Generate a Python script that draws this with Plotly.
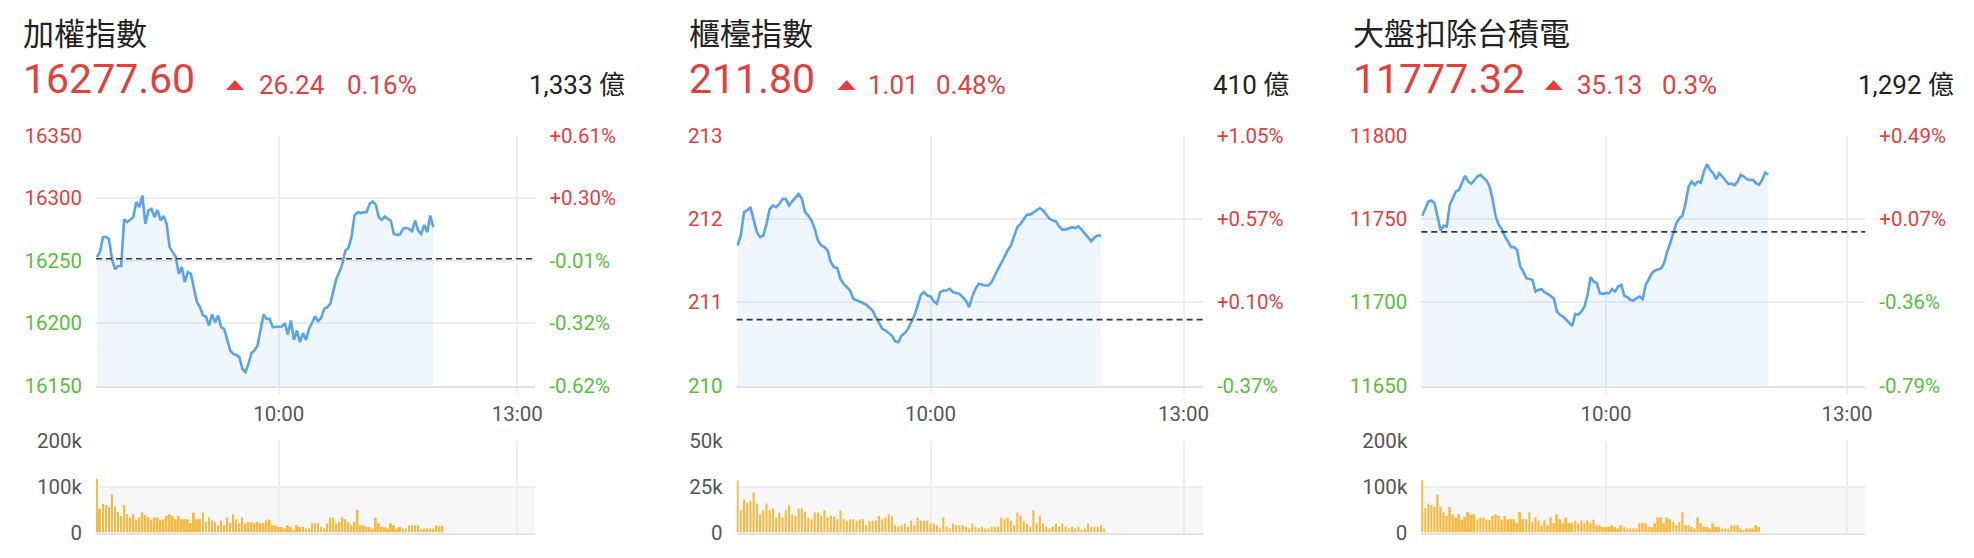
import plotly.graph_objects as go

W, H = 1974, 558

# ---------------- data ----------------
titles = ["加權指數", "櫃檯指數", "大盤扣除台積電"]
last_price = [16277.60, 211.80, 11777.32]
last_price_text = ["16277.60", "211.80", "11777.32"]
change = [26.24, 1.01, 35.13]
change_text = ["26.24", "1.01", "35.13"]
change_pct_text = ["0.16%", "0.48%", "0.3%"]
turnover_text = ["1,333 億", "410 億", "1,292 億"]

time_tick_vals = [60, 138.7]          # minute index positions of the axis labels
time_tick_text = ["10:00", "13:00"]
x_range = [-0.3, 144.7]

p1_price_ticks = [16150, 16200, 16250, 16300, 16350]
p2_price_ticks = [210, 211, 212, 213]
p3_price_ticks = [11650, 11700, 11750, 11800]

p1_vol_ticks = [0, 100, 200]
p1_vol_text = ["0", "100k", "200k"]
p2_vol_ticks = [0, 25, 50]
p2_vol_text = ["0", "25k", "50k"]
p3_vol_ticks = [0, 100, 200]
p3_vol_text = ["0", "100k", "200k"]

p1_price = [
    16252.7, 16256.7, 16268.7, 16269.0, 16267.0, 16251.0, 16243.0, 16245.6, 16245.6, 16283.0,
    16280.7, 16283.0, 16284.7, 16296.7, 16292.7, 16302.0, 16279.3, 16290.0, 16291.3, 16284.7,
    16290.5, 16282.0, 16285.7, 16279.3, 16260.7, 16256.7, 16253.2, 16239.3, 16244.7, 16232.7,
    16240.7, 16239.3, 16228.7, 16216.7, 16212.7, 16206.0, 16205.2, 16198.0, 16206.9, 16200.7,
    16206.0, 16196.7, 16195.3, 16186.0, 16178.0, 16175.3, 16174.5, 16172.7, 16163.3, 16160.7,
    16167.3, 16176.0, 16178.0, 16182.0, 16194.0, 16206.8, 16203.3, 16203.3, 16196.7, 16196.7,
    16196.7, 16197.2, 16200.0, 16190.8, 16202.0, 16186.5, 16194.0, 16184.7, 16191.9, 16186.5,
    16195.3, 16200.7, 16205.2, 16201.5, 16204.1, 16211.3, 16212.7, 16215.3, 16224.7, 16235.3,
    16240.7, 16247.3, 16258.0, 16260.1, 16268.7, 16286.0, 16288.7, 16287.9, 16288.7, 16288.7,
    16295.3, 16297.2, 16294.8, 16284.7, 16282.5, 16285.2, 16283.3, 16282.0, 16271.3, 16270.5,
    16270.8, 16275.3, 16276.1, 16275.3, 16273.5, 16282.0, 16274.0, 16271.3, 16278.5, 16272.7,
    16286.0, 16276.7,
]
p1_vol = [
    118, 52, 63, 60, 56, 83, 56, 45, 36, 60,
    40, 33, 40, 28, 33, 44, 38, 34, 28, 33,
    33, 28, 29, 36, 40, 36, 29, 36, 29, 29,
    29, 21, 43, 29, 29, 43, 23, 33, 26, 23,
    16, 26, 16, 33, 21, 40, 29, 20, 33, 20,
    23, 23, 20, 23, 20, 20, 26, 28, 16, 16,
    12, 12, 9, 16, 12, 5, 16, 12, 12, 9,
    9, 20, 20, 20, 12, 9, 20, 33, 33, 20,
    23, 33, 29, 23, 16, 23, 49, 16, 16, 12,
    12, 9, 33, 20, 12, 12, 9, 20, 16, 9,
    12, 9, 9, 16, 16, 16, 16, 7, 9, 9,
    9, 9, 16, 14, 14,
]

p2_price = [
    211.68, 211.80, 212.08, 212.10, 212.14, 211.98, 211.84, 211.78, 211.80, 211.94,
    212.12, 212.16, 212.14, 212.18, 212.24, 212.24, 212.16, 212.21, 212.26, 212.30,
    212.24, 212.08, 212.04, 211.98, 211.88, 211.74, 211.68, 211.66, 211.62, 211.48,
    211.42, 211.41, 211.28, 211.22, 211.18, 211.14, 211.04, 211.02, 211.00, 210.99,
    210.97, 210.94, 210.90, 210.82, 210.74, 210.68, 210.66, 210.63, 210.60, 210.53,
    210.52, 210.60, 210.63, 210.68, 210.76, 210.84, 210.96, 211.09, 211.12, 211.08,
    211.07, 211.01, 210.98, 211.12, 211.14, 211.14, 211.16, 211.12, 211.11, 211.10,
    211.06, 211.02, 210.94, 211.07, 211.16, 211.22, 211.21, 211.20, 211.20, 211.24,
    211.32, 211.40, 211.48, 211.56, 211.62, 211.68, 211.78, 211.90, 211.94, 212.00,
    212.05, 212.05, 212.08, 212.11, 212.13, 212.10, 212.05, 212.00, 211.98, 211.97,
    211.91, 211.87, 211.87, 211.89, 211.90, 211.89, 211.91, 211.87, 211.82, 211.78,
    211.73, 211.78, 211.80, 211.80,
]
p2_vol = [
    28.6, 12.2, 18.1, 16.2, 17.3, 21.9, 15.9, 10.0, 12.2, 15.9,
    12.2, 13.1, 8.2, 10.9, 8.2, 12.2, 14.8, 10.0, 9.1, 13.1,
    13.1, 11.3, 8.2, 7.3, 10.9, 10.9, 9.1, 12.2, 8.2, 9.1,
    8.6, 7.3, 12.2, 7.3, 6.4, 7.3, 7.3, 6.4, 7.3, 7.3,
    4.0, 6.4, 6.4, 6.4, 9.1, 7.3, 8.2, 10.0, 8.9, 4.0,
    3.1, 4.0, 4.9, 3.1, 6.4, 4.0, 8.2, 6.4, 6.4, 6.4,
    4.9, 4.9, 4.0, 2.2, 8.2, 3.1, 2.2, 4.9, 4.0, 4.0,
    4.0, 3.1, 2.2, 4.9, 3.1, 2.2, 3.1, 2.2, 2.2, 3.1,
    3.1, 3.1, 8.2, 7.3, 8.2, 6.4, 4.0, 10.9, 9.1, 6.4,
    4.9, 3.1, 12.2, 4.9, 9.1, 4.9, 3.1, 2.2, 3.1, 4.9,
    3.1, 4.9, 3.1, 2.2, 3.1, 2.2, 3.1, 1.3, 2.2, 4.9,
    3.1, 3.1, 3.1, 4.0, 2.2,
]

p3_price = [
    11751.8, 11756.4, 11760.4, 11761.0, 11759.4, 11751.4, 11743.0, 11745.8, 11745.4, 11758.4,
    11763.0, 11766.4, 11767.4, 11771.4, 11775.8, 11772.4, 11771.0, 11773.0, 11775.4, 11776.4,
    11774.4, 11773.0, 11769.4, 11761.4, 11751.4, 11746.4, 11743.8, 11739.4, 11736.4, 11733.0,
    11733.0, 11731.4, 11721.4, 11718.4, 11714.4, 11714.0, 11713.4, 11706.4, 11707.4, 11707.8,
    11705.8, 11705.0, 11703.8, 11702.4, 11694.4, 11692.4, 11691.4, 11689.4, 11687.4, 11685.8,
    11693.0, 11692.4, 11694.4, 11697.4, 11704.4, 11715.0, 11712.4, 11711.4, 11705.4, 11705.0,
    11705.4, 11705.4, 11707.8, 11706.4, 11709.4, 11710.4, 11703.8, 11703.0, 11701.4, 11701.0,
    11702.4, 11703.4, 11701.8, 11710.4, 11713.8, 11717.4, 11719.0, 11719.4, 11720.2, 11723.4,
    11730.4, 11735.4, 11741.4, 11747.4, 11750.4, 11751.8, 11759.4, 11769.4, 11772.4, 11770.4,
    11772.4, 11771.8, 11778.4, 11782.8, 11779.4, 11777.4, 11773.8, 11777.4, 11775.4, 11773.4,
    11771.0, 11771.0, 11770.2, 11772.4, 11776.4, 11775.4, 11773.8, 11773.4, 11773.4, 11771.4,
    11770.4, 11773.4, 11777.8, 11776.4,
]
p3_vol = [
    115, 53, 63, 60, 56, 83, 56, 44, 36, 56,
    40, 33, 40, 28, 34, 44, 38, 40, 28, 33,
    33, 28, 28, 36, 40, 36, 28, 36, 29, 29,
    29, 21, 44, 29, 29, 44, 23, 33, 26, 16,
    26, 16, 33, 21, 40, 29, 20, 33, 20, 21,
    26, 20, 26, 20, 26, 20, 28, 16, 16, 12,
    12, 12, 16, 12, 9, 16, 12, 9, 9, 9,
    9, 20, 20, 20, 12, 12, 20, 33, 33, 20,
    33, 29, 23, 16, 23, 44, 16, 16, 12, 9,
    33, 20, 12, 12, 9, 20, 12, 12, 9, 9,
    9, 16, 16, 16, 9, 5, 9, 9, 9, 16,
    12,
]

# ---------------- styling / layout geometry (pixels) ----------------
RED = "#e2403e"
GREEN = "#58bd3c"
DARK = "#222222"
GREYTXT = "#555555"
GRID = "#eeeeee"
AXLINE = "#e2e2e2"
LINE = "#5aa3e8"
FILL = "rgba(90,160,230,0.09)"
BAR = "#f6b942"
NUMFONT = "Roboto, 'Noto Sans CJK TC', sans-serif"
CJKFONT = "'Noto Sans CJK TC', sans-serif"

plot_left = [96.0, 736.6, 1421.3]
plot_right = [535.4, 1202.9, 1865.3]
text_left = [21.0, 687.4, 1351.0]
tri_left = [226.0, 837.6, 1544.6]
chg_left = [256.7, 866.2, 1575.0]
pct_left = [345.1, 933.6, 1660.0]
turnover_right = [627.1, 1291.3, 1955.8]
price_top, price_bottom = 135.5, 385.5
vol_top, vol_bottom = 441, 532.5


def fx(px):
    return px / W


def fy(py):
    return 1 - py / H


def sfx(n):
    return "" if n == 1 else str(n)


panels = [
    dict(price=p1_price, vol=p1_vol, pticks=p1_price_ticks, vticks=p1_vol_ticks, vtext=p1_vol_text),
    dict(price=p2_price, vol=p2_vol, pticks=p2_price_ticks, vticks=p2_vol_ticks, vtext=p2_vol_text),
    dict(price=p3_price, vol=p3_vol, pticks=p3_price_ticks, vticks=p3_vol_ticks, vtext=p3_vol_text),
]

fig = go.Figure()
layout = dict(
    template="none",
    width=W, height=H, autosize=False,
    margin=dict(l=0, r=0, t=0, b=0, pad=0, autoexpand=False),
    paper_bgcolor="white", plot_bgcolor="white",
    showlegend=False, hovermode=False,
    shapes=[], annotations=[],
)

tickfont = dict(family=NUMFONT, size=20.5, color=GREYTXT)

for k, p in enumerate(panels):
    ref = last_price[k] - change[k]
    pxn, vxn = 2 * k + 1, 2 * k + 2
    rid = 7 + k
    xa_p, ya_p = "x" + sfx(pxn), "y" + sfx(pxn)
    xa_v, ya_v = "x" + sfx(vxn), "y" + sfx(vxn)
    ya_r = "y" + str(rid)

    fig.add_trace(go.Scatter(
        x=list(range(len(p["price"]))), y=p["price"], xaxis=xa_p, yaxis=ya_p,
        mode="lines", line=dict(color=LINE, width=2.6), fill="tozeroy", fillcolor=FILL,
        hoverinfo="skip"))
    fig.add_trace(go.Scatter(
        x=[0], y=[ref], xaxis=xa_p, yaxis=ya_r, mode="markers",
        marker=dict(opacity=0), hoverinfo="skip"))
    fig.add_trace(go.Bar(
        x=list(range(len(p["vol"]))), y=p["vol"], xaxis=xa_v, yaxis=ya_v,
        width=0.64, marker=dict(color=BAR, line=dict(width=0)), hoverinfo="skip"))

    lo, hi = min(p["pticks"]), max(p["pticks"])
    left_text = ['<span style="color:%s">%s</span>' % (RED if v > ref else GREEN, v)
                 for v in p["pticks"]]
    right_text = []
    for v in p["pticks"]:
        pct = (v / ref - 1) * 100
        right_text.append('<span style="color:%s">%+.2f%%</span>' % (RED if pct > 0 else GREEN, pct))

    dom_x = [fx(plot_left[k]), fx(plot_right[k])]
    layout["xaxis" + sfx(pxn)] = dict(
        domain=dom_x, range=x_range, anchor=ya_p, automargin=False,
        tickmode="array", tickvals=time_tick_vals, ticktext=time_tick_text,
        showgrid=True, gridcolor=GRID, gridwidth=1.5,
        ticks="outside", ticklen=6, tickcolor=GRID, tickwidth=1.5,
        showline=True, linecolor=AXLINE, linewidth=2, zeroline=False,
        tickfont=tickfont, ticklabelstandoff=3, fixedrange=True)
    layout["yaxis" + sfx(pxn)] = dict(
        domain=[fy(price_bottom), fy(price_top)], range=[lo, hi], anchor=xa_p, automargin=False,
        tickmode="array", tickvals=p["pticks"], ticktext=left_text,
        showgrid=True, gridcolor=GRID, gridwidth=1.5, zeroline=False, ticks="",
        showline=False, tickfont=tickfont, ticklabelstandoff=13, fixedrange=True)
    layout["yaxis" + str(rid)] = dict(
        overlaying=ya_p, side="right", anchor=xa_p, range=[lo, hi], automargin=False,
        tickmode="array", tickvals=p["pticks"], ticktext=right_text,
        showgrid=False, zeroline=False, ticks="", showline=False,
        tickfont=tickfont, ticklabelstandoff=13, fixedrange=True)
    layout["xaxis" + sfx(vxn)] = dict(
        domain=dom_x, range=x_range, anchor=ya_v, automargin=False,
        tickmode="array", tickvals=time_tick_vals, showticklabels=False,
        showgrid=True, gridcolor=GRID, gridwidth=1.5, ticks="",
        showline=True, linecolor=AXLINE, linewidth=1.5, zeroline=False, fixedrange=True)
    layout["yaxis" + sfx(vxn)] = dict(
        domain=[fy(vol_bottom), fy(vol_top)], range=[min(p["vticks"]), max(p["vticks"])],
        anchor=xa_v, automargin=False, tickmode="array", tickvals=p["vticks"], ticktext=p["vtext"],
        showgrid=True, gridcolor=GRID, gridwidth=1.5, zeroline=False, ticks="", showline=False,
        tickfont=tickfont, ticklabelstandoff=13, fixedrange=True)

    # previous-close dashed line
    layout["shapes"].append(dict(
        type="line", xref=xa_p + " domain", x0=0, x1=1, yref=ya_p, y0=ref, y1=ref,
        line=dict(color="#33383d", width=1.6, dash="6px,4px"), layer="above"))
    # light band in volume panel
    layout["shapes"].append(dict(
        type="rect", xref=xa_v + " domain", x0=0, x1=1, yref=ya_v,
        y0=p["vticks"][0], y1=p["vticks"][1],
        fillcolor="#f7f7f7", line=dict(width=0), layer="below"))
    # up triangle
    tx = tri_left[k]
    layout["shapes"].append(dict(
        type="path", xref="paper", yref="paper",
        path="M %f,%f L %f,%f L %f,%f Z" % (fx(tx), fy(90), fx(tx + 18), fy(90), fx(tx + 9), fy(80)),
        fillcolor=RED, line=dict(width=0)))

    ann = layout["annotations"]
    ann.append(dict(x=fx(text_left[k]), y=fy(32), xref="paper", yref="paper",
                    xanchor="left", yanchor="middle", showarrow=False, text=titles[k],
                    font=dict(family=CJKFONT, size=31, color=DARK)))
    ann.append(dict(x=fx(text_left[k]), y=fy(78.5), xref="paper", yref="paper",
                    xanchor="left", yanchor="middle", showarrow=False, text=last_price_text[k],
                    font=dict(family=NUMFONT, size=41, color=RED)))
    ann.append(dict(x=fx(chg_left[k]), y=fy(84.5), xref="paper", yref="paper",
                    xanchor="left", yanchor="middle", showarrow=False, text=change_text[k],
                    font=dict(family=NUMFONT, size=26, color=RED)))
    ann.append(dict(x=fx(pct_left[k]), y=fy(84.5), xref="paper", yref="paper",
                    xanchor="left", yanchor="middle", showarrow=False, text=change_pct_text[k],
                    font=dict(family=NUMFONT, size=26, color=RED)))
    ann.append(dict(x=fx(turnover_right[k]), y=fy(84.5), xref="paper", yref="paper",
                    xanchor="right", yanchor="middle", showarrow=False, text=turnover_text[k],
                    font=dict(family=NUMFONT, size=26, color=DARK)))

fig.update_layout(**layout)
fig.write_html("out.html")
